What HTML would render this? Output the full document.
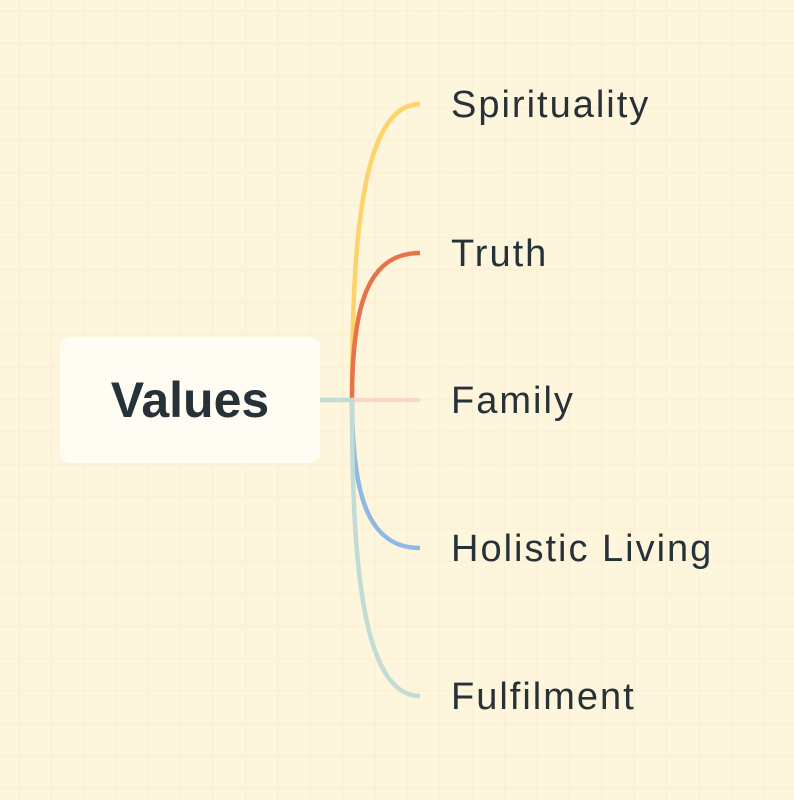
<!DOCTYPE html>
<html><head><style>
html,body{margin:0;padding:0}
body{width:794px;height:800px;overflow:hidden;background-color:#fef5dd;
background-image:linear-gradient(to right,#fcf0d3 1.5px,transparent 1.5px),linear-gradient(to bottom,#fcf0d3 1.5px,transparent 1.5px);
background-size:32.4px 32.4px;background-position:18px 10px;position:relative;font-family:"Liberation Sans",sans-serif}
.box{position:absolute;left:60px;top:337px;width:260px;height:126px;background:#fffdf3;border-radius:12px;display:flex;align-items:center;justify-content:center;font-weight:bold;font-size:50px;color:#263238}
.t{position:absolute;left:451px;font-size:38px;color:#263238;letter-spacing:2px;line-height:1}
</style></head><body>
<svg width="794" height="800" style="position:absolute;left:0;top:0">
<g fill="none" stroke-width="4.5">
<path d="M352 400 C352 250 360 104 420 104" stroke="#fdd46a"/>
<path d="M352 400 C352 300 370 253 420 253" stroke="#e8734a"/>
<path d="M352 400 L420 400" stroke="#f8d8c8"/>
<path d="M352 400 C352 500 370 548 420 548" stroke="#90b8e4"/>
<path d="M352 400 C352 550 360 696 420 696" stroke="#c0dcd4"/>
<path d="M320 400 L354 400" stroke="#c0dcd4"/>
</g></svg>
<div class="box">Values</div>
<div class="t" style="top:86px">Spirituality</div>
<div class="t" style="top:235px">Truth</div>
<div class="t" style="top:382px">Family</div>
<div class="t" style="top:530px">Holistic Living</div>
<div class="t" style="top:678px">Fulfilment</div>
</body></html>
